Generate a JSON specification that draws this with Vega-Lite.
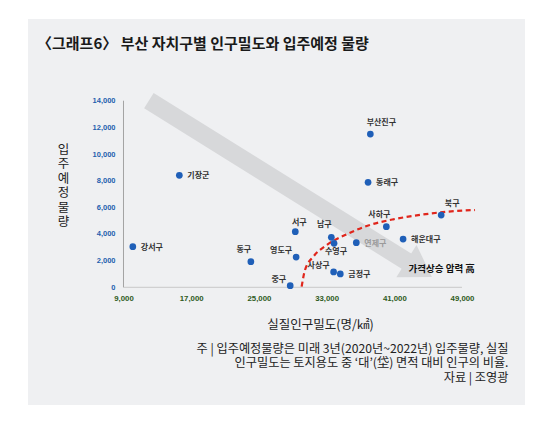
{
  "$schema": "https://vega.github.io/schema/vega-lite/v6.json",
  "width": 497,
  "height": 386,
  "autosize": {"type": "none"},
  "padding": {"left": 28, "top": 19, "right": 28, "bottom": 19},
  "background": "#ffffff",
  "title": {
    "text": "〈그래프6〉 부산 자치구별 인구밀도와 입주예정 물량",
    "orient": "top",
    "anchor": "start",
    "frame": "group",
    "offset": 0,
    "baseline": "alphabetic",
    "dx": 9,
    "dy": 45,
    "font": "Noto Sans CJK KR",
    "fontSize": 15,
    "fontWeight": "bold",
    "color": "#1a1a1a"
  },
  "datasets": {
    "districts": [
      {"district": "강서구", "density": 10100, "supply": 3050},
      {"district": "기장군", "density": 15600, "supply": 8400},
      {"district": "동구", "density": 24050, "supply": 1920},
      {"district": "서구", "density": 29300, "supply": 4170},
      {"district": "영도구", "density": 29400, "supply": 2270},
      {"district": "중구", "density": 28700, "supply": 120},
      {"district": "부산진구", "density": 38170, "supply": 11500},
      {"district": "동래구", "density": 37900, "supply": 7880},
      {"district": "북구", "density": 46540, "supply": 5420},
      {"district": "사하구", "density": 40060, "supply": 4550},
      {"district": "해운대구", "density": 42040, "supply": 3620},
      {"district": "연제구", "density": 36510, "supply": 3350},
      {"district": "남구", "density": 33560, "supply": 3750},
      {"district": "수영구", "density": 33880, "supply": 3300},
      {"district": "사상구", "density": 33830, "supply": 1150},
      {"district": "금정구", "density": 34620, "supply": 1000}
    ],
    "pressure_curve": [
      {"order": 1, "density": 30050, "supply": 50},
      {"order": 2, "density": 30450, "supply": 1300},
      {"order": 3, "density": 31430, "supply": 2300},
      {"order": 4, "density": 33010, "supply": 3170},
      {"order": 5, "density": 35180, "supply": 3920},
      {"order": 6, "density": 37740, "supply": 4600},
      {"order": 7, "density": 40880, "supply": 5100},
      {"order": 8, "density": 44040, "supply": 5430},
      {"order": 9, "density": 47190, "supply": 5670},
      {"order": 10, "density": 50540, "supply": 5800}
    ],
    "trend_arrow": [
      {"density": 12000, "supply": 14000, "density2": 43940, "supply2": 1370}
    ],
    "x_axis_line": [
      {"density": 9000, "supply": 0, "density2": 49000}
    ],
    "y_axis_line": [
      {"density": 9000, "supply": 0, "supply2": 14000}
    ],
    "annotation": [
      {"label": "가격상승 압력 高", "density": 46600, "supply": 1370}
    ]
  },
  "resolve": {"axis": {"x": "independent"}},
  "layer": [
    {
      "layer": [
        {
          "data": {"name": "x_axis_line"},
          "mark": {"type": "rule", "color": "#c9c9c9", "strokeWidth": 1},
          "encoding": {
            "x": {
              "field": "density",
              "type": "quantitative",
              "scale": {"domain": [-2285, 56445], "nice": false, "zero": false},
              "axis": {
                "orient": "bottom",
                "offset": -118,
                "domain": false,
                "ticks": false,
                "grid": false,
                "values": [9000, 17000, 25000, 33000, 41000, 49000],
                "format": ",d",
                "labelFont": "Liberation Sans",
                "labelFontSize": 7.8,
                "labelFontWeight": "bold",
                "labelColor": "#2d5a1b",
                "labelPadding": 7,
                "title": "실질인구밀도(명/㎢)",
                "titleFont": "Noto Sans CJK KR",
                "titleFontSize": 12.5,
                "titleFontWeight": "normal",
                "titleColor": "#222222",
                "titleX": 292,
                "titleY": 37,
                "titleAlign": "center",
                "titleBaseline": "middle"
              }
            },
            "x2": {"field": "density2"},
            "y": {
              "field": "supply",
              "type": "quantitative",
              "scale": {"domain": [-8831, 20131], "nice": false, "zero": false},
              "axis": {
                "orient": "left",
                "offset": -95,
                "domain": false,
                "ticks": false,
                "grid": false,
                "values": [0, 2000, 4000, 6000, 8000, 10000, 12000, 14000],
                "format": ",d",
                "labelFont": "Liberation Sans",
                "labelFontSize": 7.5,
                "labelFontWeight": "bold",
                "labelColor": "#1f5fae",
                "labelPadding": 8,
                "title": ["입", "주", "예", "정", "물", "량"],
                "titleFont": "Noto Sans CJK KR",
                "titleFontSize": 12.5,
                "titleFontWeight": "normal",
                "titleColor": "#222222",
                "titleAngle": 0,
                "titleLineHeight": 14.5,
                "titleX": -60,
                "titleY": 124,
                "titleAlign": "center",
                "titleBaseline": "top"
              }
            }
          }
        },
        {
          "data": {"name": "trend_arrow"},
          "mark": {"type": "rule", "color": "#d7d8da", "strokeWidth": 18, "strokeCap": "butt"},
          "encoding": {
            "x": {"field": "density", "type": "quantitative"},
            "y": {"field": "supply", "type": "quantitative"},
            "x2": {"field": "density2"},
            "y2": {"field": "supply2"}
          }
        },
        {
          "data": {"name": "trend_arrow"},
          "mark": {
            "type": "point",
            "shape": "M -0.79 -1 L 0.79 0 L -0.79 1 Z",
            "angle": 32,
            "size": 1444,
            "filled": true,
            "color": "#d7d8da",
            "opacity": 1
          },
          "encoding": {
            "x": {"field": "density2", "type": "quantitative"},
            "y": {"field": "supply2", "type": "quantitative"}
          }
        },
        {
          "data": {"name": "districts"},
          "transform": [{"filter": {"field": "district", "oneOf": ["강서구", "기장군", "동래구", "해운대구", "금정구"]}}],
          "mark": {"type": "text", "align": "left", "baseline": "middle", "dx": 8, "dy": 1, "font": "Noto Sans CJK KR", "fontSize": 8, "fontWeight": "bold", "color": "#333333"},
          "encoding": {
            "x": {"field": "density", "type": "quantitative"},
            "y": {"field": "supply", "type": "quantitative"},
            "text": {"field": "district"}
          }
        },
        {
          "data": {"name": "districts"},
          "transform": [{"filter": {"field": "district", "oneOf": ["연제구"]}}],
          "mark": {"type": "text", "align": "left", "baseline": "middle", "dx": 8, "dy": 1, "font": "Noto Sans CJK KR", "fontSize": 8, "fontWeight": "bold", "color": "#9a9a9a"},
          "encoding": {
            "x": {"field": "density", "type": "quantitative"},
            "y": {"field": "supply", "type": "quantitative"},
            "text": {"field": "district"}
          }
        },
        {
          "data": {"name": "districts"},
          "transform": [{"filter": {"field": "district", "oneOf": ["부산진구", "북구"]}}],
          "mark": {"type": "text", "align": "center", "baseline": "middle", "dx": 11, "dy": -11, "font": "Noto Sans CJK KR", "fontSize": 8, "fontWeight": "bold", "color": "#333333"},
          "encoding": {
            "x": {"field": "density", "type": "quantitative"},
            "y": {"field": "supply", "type": "quantitative"},
            "text": {"field": "district"}
          }
        },
        {
          "data": {"name": "districts"},
          "transform": [{"filter": {"field": "district", "oneOf": ["서구"]}}],
          "mark": {"type": "text", "align": "center", "baseline": "middle", "dx": 4, "dy": -9, "font": "Noto Sans CJK KR", "fontSize": 8, "fontWeight": "bold", "color": "#333333"},
          "encoding": {
            "x": {"field": "density", "type": "quantitative"},
            "y": {"field": "supply", "type": "quantitative"},
            "text": {"field": "district"}
          }
        },
        {
          "data": {"name": "districts"},
          "transform": [{"filter": {"field": "district", "oneOf": ["사하구", "동구", "남구"]}}],
          "mark": {"type": "text", "align": "center", "baseline": "middle", "dx": -7, "dy": -12, "font": "Noto Sans CJK KR", "fontSize": 8, "fontWeight": "bold", "color": "#333333"},
          "encoding": {
            "x": {"field": "density", "type": "quantitative"},
            "y": {"field": "supply", "type": "quantitative"},
            "text": {"field": "district"}
          }
        },
        {
          "data": {"name": "districts"},
          "transform": [{"filter": {"field": "district", "oneOf": ["영도구", "중구", "사상구"]}}],
          "mark": {"type": "text", "align": "right", "baseline": "middle", "dx": -4, "dy": -6, "font": "Noto Sans CJK KR", "fontSize": 8, "fontWeight": "bold", "color": "#333333"},
          "encoding": {
            "x": {"field": "density", "type": "quantitative"},
            "y": {"field": "supply", "type": "quantitative"},
            "text": {"field": "district"}
          }
        },
        {
          "data": {"name": "districts"},
          "transform": [{"filter": {"field": "district", "oneOf": ["수영구"]}}],
          "mark": {"type": "text", "align": "center", "baseline": "middle", "dx": 2, "dy": 9, "font": "Noto Sans CJK KR", "fontSize": 8, "fontWeight": "bold", "color": "#333333"},
          "encoding": {
            "x": {"field": "density", "type": "quantitative"},
            "y": {"field": "supply", "type": "quantitative"},
            "text": {"field": "district"}
          }
        },
        {
          "data": {"name": "pressure_curve"},
          "mark": {"type": "line", "interpolate": "monotone", "color": "#e0261c", "strokeWidth": 2.2, "strokeDash": [5, 3.5]},
          "encoding": {
            "x": {"field": "density", "type": "quantitative"},
            "y": {"field": "supply", "type": "quantitative"},
            "order": {"field": "order"}
          }
        },
        {
          "data": {"name": "districts"},
          "mark": {"type": "circle", "size": 45, "color": "#1f5fb8", "opacity": 1},
          "encoding": {
            "x": {"field": "density", "type": "quantitative"},
            "y": {"field": "supply", "type": "quantitative"},
            "tooltip": [
              {"field": "district", "title": "자치구"},
              {"field": "density", "type": "quantitative", "title": "실질인구밀도", "format": ","},
              {"field": "supply", "type": "quantitative", "title": "입주예정물량", "format": ","}
            ]
          }
        },
        {
          "data": {"name": "annotation"},
          "mark": {"type": "text", "align": "center", "baseline": "middle", "font": "Noto Sans CJK KR", "fontSize": 9.5, "fontWeight": "bold", "color": "#111111"},
          "encoding": {
            "x": {"field": "density", "type": "quantitative"},
            "y": {"field": "supply", "type": "quantitative"},
            "text": {"field": "label"}
          }
        }
      ]
    },
    {
      "data": {"name": "y_axis_line"},
      "mark": {"type": "rule", "color": "#a3a3a3", "strokeWidth": 1},
      "encoding": {
        "x": {
          "field": "density",
          "type": "quantitative",
          "axis": {
            "orient": "top",
            "offset": 0,
            "domain": false,
            "ticks": false,
            "labels": false,
            "grid": false,
            "title": [
              "주 | 입주예정물량은 미래 3년(2020년~2022년) 입주물량, 실질",
              "인구밀도는 토지용도 중 ‘대’(垈) 면적 대비 인구의 비율.",
              "자료 | 조영광"
            ],
            "titleFont": "Noto Sans CJK KR",
            "titleFontSize": 12.2,
            "titleFontWeight": "normal",
            "titleColor": "#222222",
            "titleLineHeight": 14.5,
            "titleX": 480,
            "titleY": 323,
            "titleAlign": "right",
            "titleAnchor": null,
            "titleBaseline": "top"
          }
        },
        "y": {"field": "supply", "type": "quantitative"},
        "y2": {"field": "supply2"}
      }
    }
  ],
  "config": {
    "view": {"fill": "#eff0f2", "stroke": null},
    "font": "Noto Sans CJK KR"
  }
}
